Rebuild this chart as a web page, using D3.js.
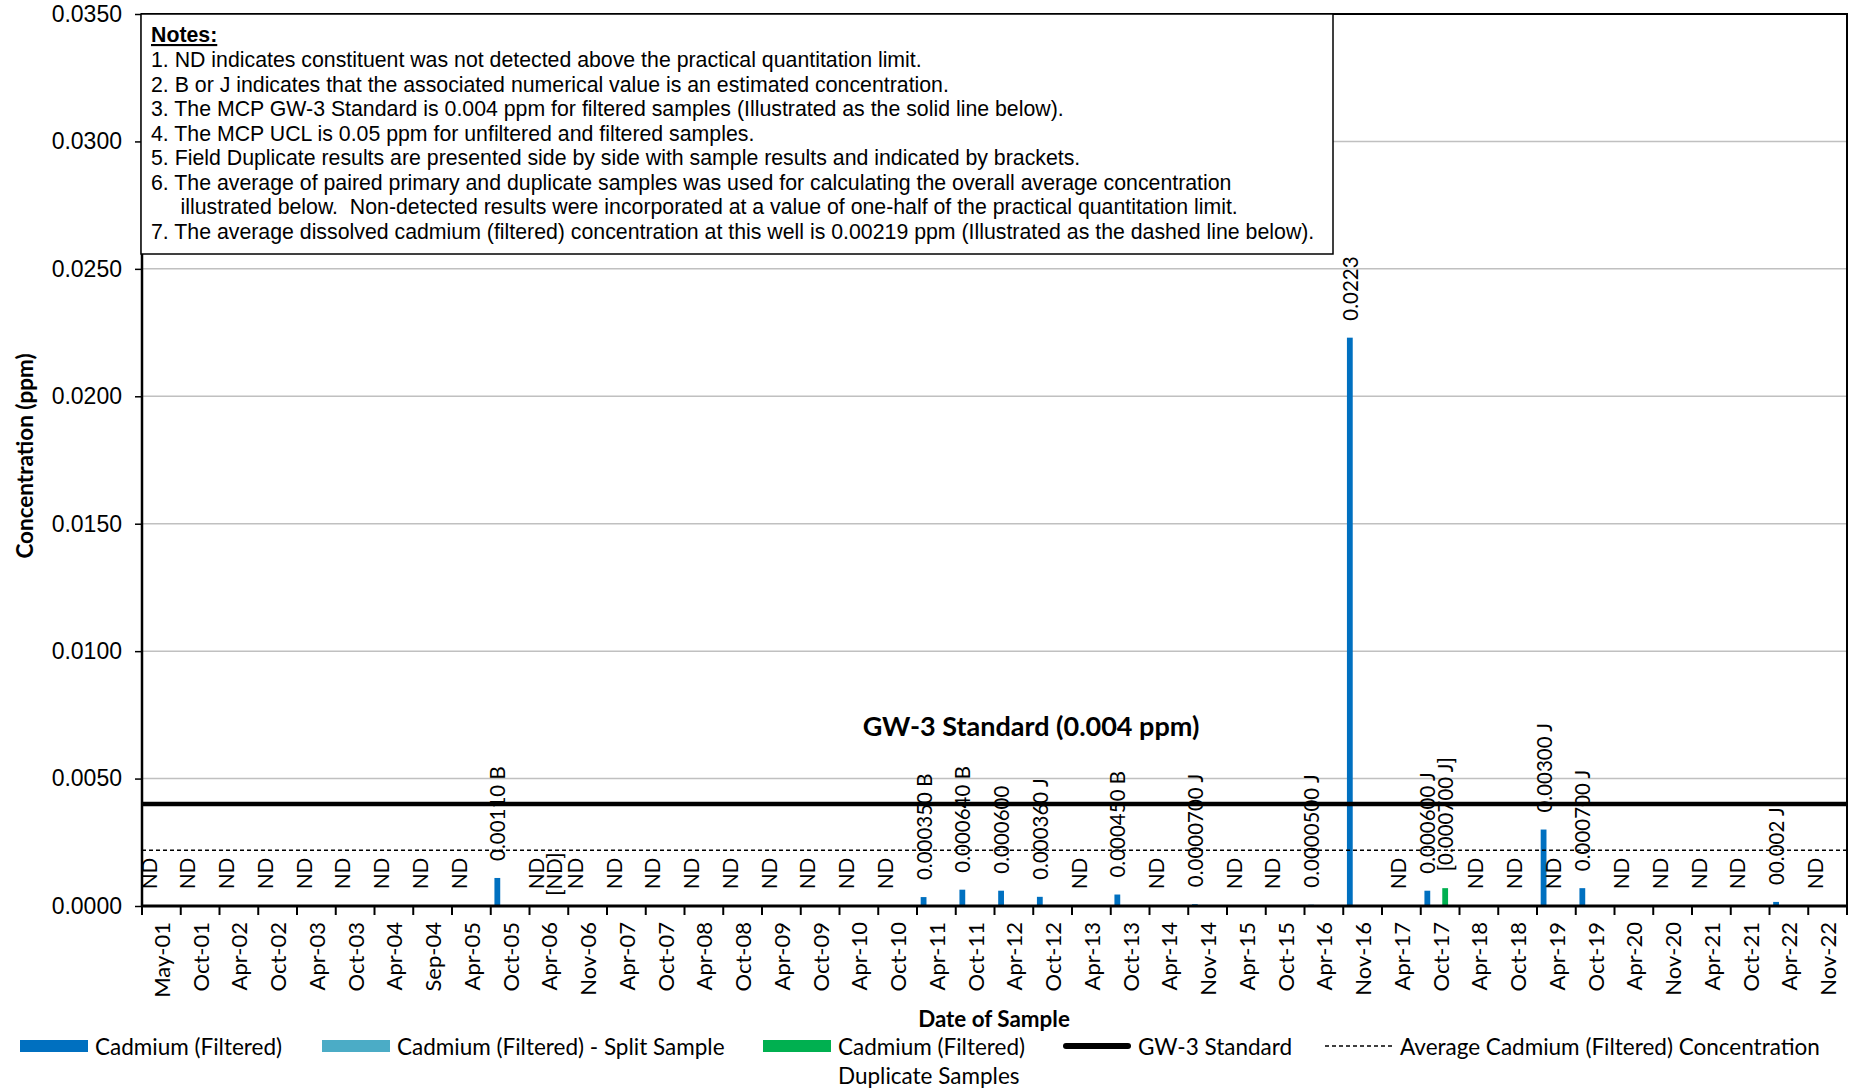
<!DOCTYPE html>
<html>
<head>
<meta charset="utf-8">
<script src="https://cdn.jsdelivr.net/npm/d3@7"></script>
<style>
  body { margin: 0; background: #fff; }
  svg { display: block; }
</style>
</head>
<body>
<script>
// Datos
const categorias = [
  "May-01", "Oct-01", "Apr-02", "Oct-02", "Apr-03", "Oct-03", "Apr-04", "Sep-04", "Apr-05", "Oct-05",
  "Apr-06", "Nov-06", "Apr-07", "Oct-07", "Apr-08", "Oct-08", "Apr-09", "Oct-09", "Apr-10", "Oct-10",
  "Apr-11", "Oct-11", "Apr-12", "Oct-12", "Apr-13", "Oct-13", "Apr-14", "Nov-14", "Apr-15", "Oct-15",
  "Apr-16", "Nov-16", "Apr-17", "Oct-17", "Apr-18", "Oct-18", "Apr-19", "Oct-19", "Apr-20", "Nov-20",
  "Apr-21", "Oct-21", "Apr-22", "Nov-22"
];

// Cadmium (Filtered): 0 = no detectado
const filtrado = [
  0, 0, 0, 0, 0, 0, 0, 0, 0, 0.0011,
  0, 0, 0, 0, 0, 0, 0, 0, 0, 0,
  0.00035, 0.00064, 0.0006, 0.00036, 0, 0.00045, 0, 0.00007, 0, 0,
  0.00005, 0.0223, 0, 0.0006, 0, 0, 0.003, 0.0007, 0, 0,
  0, 0, 0.00016, 0
];
const etiquetasFiltrado = [
  "ND", "ND", "ND", "ND", "ND", "ND", "ND", "ND", "ND", "0.00110 B",
  "ND", "ND", "ND", "ND", "ND", "ND", "ND", "ND", "ND", "ND",
  "0.000350 B", "0.000640 B", "0.000600", "0.000360 J", "ND", "0.000450 B", "ND", "0.0000700 J", "ND", "ND",
  "0.0000500 J", "0.0223", "", "0.000600 J", "", "", "0.00300 J", "0.000700 J", "ND", "ND",
  "ND", "ND", "00.002 J", "ND"
];

// Cadmium (Filtered) - Split Sample
const split = { "Apr-17": 0, "Apr-18": 0, "Oct-18": 0, "Apr-19": 0 };
const etiquetasSplit = { "Apr-17": "ND", "Apr-18": "ND", "Oct-18": "ND", "Apr-19": "ND" };

// Cadmium (Filtered) Duplicate Samples
const duplicado = { "Apr-06": 0, "Oct-17": 0.0007 };
const etiquetasDuplicado = { "Apr-06": "[ND]", "Oct-17": "[0.000700 J]" };

const estandarGW3 = 0.004;
const promedio = 0.00219;
const ticksY = [0, 0.005, 0.01, 0.015, 0.02, 0.025, 0.03, 0.035];

const notas = [
  "1. ND indicates constituent was not detected above the practical quantitation limit.",
  "2. B or J indicates that the associated numerical value is an estimated concentration.",
  "3. The MCP GW-3 Standard is 0.004 ppm for filtered samples (Illustrated as the solid line below).",
  "4. The MCP UCL is 0.05 ppm for unfiltered and filtered samples.",
  "5. Field Duplicate results are presented side by side with sample results and indicated by brackets.",
  "6. The average of paired primary and duplicate samples was used for calculating the overall average concentration",
  "     illustrated below.  Non-detected results were incorporated at a value of one-half of the practical quantitation limit.",
  "7. The average dissolved cadmium (filtered) concentration at this well is 0.00219 ppm (Illustrated as the dashed line below)."
];

const series = ["filtrado", "split", "duplicado"];
const colores = { filtrado: "#0070c0", split: "#4bacc6", duplicado: "#00b050" };

// Constantes de la visualización
const WIDTH = 1854;
const HEIGHT = 1088;
const MARGIN = { top: 14, bottom: 182, left: 142, right: 7 };
const HEIGHTVIS = HEIGHT - MARGIN.top - MARGIN.bottom;
const WIDTHVIS = WIDTH - MARGIN.left - MARGIN.right;

const ARIAL = "'Liberation Sans', Arial, sans-serif";
const CALIBRI = "Lato, 'Open Sans', sans-serif";

const svg = d3.select("body")
  .append("svg")
  .attr("width", WIDTH)
  .attr("height", HEIGHT);

const escalaX = d3.scaleBand()
  .domain(categorias)
  .range([0, WIDTHVIS])
  .padding(0);

const escalaSerie = d3.scaleBand()
  .domain(series)
  .range([escalaX.bandwidth() * 0.095, escalaX.bandwidth() * 0.705])
  .paddingInner(0.35);

const escalaY = d3.scaleLinear()
  .domain([0, 0.035])
  .range([HEIGHTVIS, 0]);

const vis = svg.append("g")
  .attr("transform", `translate(${MARGIN.left}, ${MARGIN.top})`);

// Líneas de grilla
vis.append("g")
  .selectAll("line")
  .data(ticksY.slice(1, -1))
  .join("line")
  .attr("x1", 0)
  .attr("x2", WIDTHVIS)
  .attr("y1", d => escalaY(d))
  .attr("y2", d => escalaY(d))
  .attr("stroke", "#c0c0c0")
  .attr("stroke-width", 1.5);

// Construimos los datos de las barras
const datos = [];
categorias.forEach((c, i) => {
  datos.push({ categoria: c, serie: "filtrado", valor: filtrado[i], etiqueta: etiquetasFiltrado[i] });
  if (c in split) datos.push({ categoria: c, serie: "split", valor: split[c], etiqueta: etiquetasSplit[c] });
  if (c in duplicado) datos.push({ categoria: c, serie: "duplicado", valor: duplicado[c], etiqueta: etiquetasDuplicado[c] });
});

vis.append("g")
  .selectAll("rect")
  .data(datos.filter(d => d.valor > 0))
  .join("rect")
  .attr("x", d => escalaX(d.categoria) + escalaSerie(d.serie))
  .attr("width", escalaSerie.bandwidth())
  .attr("y", d => escalaY(d.valor))
  .attr("height", d => HEIGHTVIS - escalaY(d.valor))
  .attr("fill", d => colores[d.serie]);

// Línea GW-3 y promedio
vis.append("line")
  .attr("x1", 0).attr("x2", WIDTHVIS)
  .attr("y1", escalaY(estandarGW3)).attr("y2", escalaY(estandarGW3))
  .attr("stroke", "#000").attr("stroke-width", 4.5);

vis.append("line")
  .attr("x1", 0).attr("x2", WIDTHVIS)
  .attr("y1", escalaY(promedio)).attr("y2", escalaY(promedio))
  .attr("stroke", "#000").attr("stroke-width", 1.5)
  .attr("stroke-dasharray", "4,3");

// Etiquetas de datos (las ND entre corchetes van centradas, como en Excel)
vis.append("g")
  .selectAll("text")
  .data(datos.filter(d => d.etiqueta))
  .join("text")
  .attr("transform", d => {
    const x = escalaX(d.categoria) + escalaSerie(d.serie) + escalaSerie.bandwidth() / 2;
    const y = d.etiqueta === "[ND]" ? escalaY(d.valor) - 32 : escalaY(d.valor) - 17;
    return `translate(${x}, ${y}) rotate(-90)`;
  })
  .attr("text-anchor", d => d.etiqueta === "[ND]" ? "middle" : "start")
  .attr("dominant-baseline", "central")
  .attr("font-family", CALIBRI)
  .attr("font-size", 20.5)
  .attr("fill", "#000")
  .text(d => d.etiqueta);

// Eje Y
const ejeY = d3.axisLeft(escalaY)
  .tickValues(ticksY)
  .tickFormat(d3.format(".4f"))
  .tickSize(7)
  .tickPadding(13);

const contenedorEjeY = vis.append("g").call(ejeY);
contenedorEjeY.select(".domain").remove();
contenedorEjeY.selectAll("line").attr("stroke", "#000").attr("stroke-width", 1.5);
contenedorEjeY.selectAll("text")
  .attr("font-family", ARIAL)
  .attr("font-size", 23)
  .attr("fill", "#000");

// Eje X: marcas en los bordes de cada banda
const contenedorEjeX = vis.append("g")
  .attr("transform", `translate(0, ${HEIGHTVIS})`);

contenedorEjeX.selectAll("line")
  .data(categorias.concat(["fin"]))
  .join("line")
  .attr("x1", d => d === "fin" ? WIDTHVIS : escalaX(d))
  .attr("x2", d => d === "fin" ? WIDTHVIS : escalaX(d))
  .attr("y1", 0)
  .attr("y2", 9)
  .attr("stroke", "#000")
  .attr("stroke-width", 2);

contenedorEjeX.selectAll("text")
  .data(categorias)
  .join("text")
  .attr("transform", d => `translate(${escalaX(d) + escalaX.bandwidth() / 2}, 16) rotate(-90)`)
  .attr("text-anchor", "end")
  .attr("dominant-baseline", "central")
  .attr("font-family", CALIBRI)
  .attr("font-size", 22)
  .text(d => d);

// Borde del área del gráfico
vis.append("rect")
  .attr("x", 0).attr("y", 0)
  .attr("width", WIDTHVIS).attr("height", HEIGHTVIS)
  .attr("fill", "none")
  .attr("stroke", "#000")
  .attr("stroke-width", 2);

vis.append("line")
  .attr("x1", 0).attr("x2", WIDTHVIS)
  .attr("y1", HEIGHTVIS).attr("y2", HEIGHTVIS)
  .attr("stroke", "#000").attr("stroke-width", 3);

vis.append("line")
  .attr("x1", 0).attr("x2", 0)
  .attr("y1", 0).attr("y2", HEIGHTVIS)
  .attr("stroke", "#000").attr("stroke-width", 2.5);

// Texto GW-3
vis.append("text")
  .attr("x", 889)
  .attr("y", 722)
  .attr("text-anchor", "middle")
  .attr("font-family", CALIBRI)
  .attr("font-weight", "bold")
  .attr("font-size", 27)
  .text("GW-3 Standard (0.004 ppm)");

// Cuadro de notas
const notasG = svg.append("g").attr("transform", "translate(141, 14)");
notasG.append("rect")
  .attr("width", 1192).attr("height", 240)
  .attr("fill", "#fff")
  .attr("stroke", "#000")
  .attr("stroke-width", 1.5);

notasG.append("text")
  .attr("x", 10).attr("y", 28)
  .attr("font-family", ARIAL)
  .attr("font-size", 21.3)
  .attr("font-weight", "bold")
  .attr("text-decoration", "underline")
  .text("Notes:");

notasG.selectAll("text.nota")
  .data(notas)
  .join("text")
  .attr("class", "nota")
  .attr("x", 10)
  .attr("y", (d, i) => 53 + i * 24.5)
  .attr("font-family", ARIAL)
  .attr("font-size", 21.3)
  .attr("xml:space", "preserve")
  .style("white-space", "pre")
  .text(d => d);

// Títulos de ejes
svg.append("text")
  .attr("x", 994).attr("y", 1027)
  .attr("text-anchor", "middle")
  .attr("font-family", CALIBRI)
  .attr("font-weight", "bold")
  .attr("font-size", 22.4)
  .text("Date of Sample");

svg.append("text")
  .attr("transform", "translate(24, 456) rotate(-90)")
  .attr("text-anchor", "middle")
  .attr("dominant-baseline", "central")
  .attr("font-family", CALIBRI)
  .attr("font-weight", "bold")
  .attr("font-size", 22.5)
  .text("Concentration (ppm)");

// Leyenda
const leyenda = [
  { nombre: "Cadmium (Filtered)", tipo: "rect", color: colores.filtrado, x: 20 },
  { nombre: "Cadmium (Filtered) - Split Sample", tipo: "rect", color: colores.split, x: 322 },
  { nombre: "Cadmium (Filtered)", nombre2: "Duplicate Samples", tipo: "rect", color: colores.duplicado, x: 763 },
  { nombre: "GW-3 Standard", tipo: "linea", x: 1063 },
  { nombre: "Average Cadmium (Filtered) Concentration", tipo: "guion", x: 1325 }
];

const leyG = svg.append("g").attr("transform", "translate(0, 1046)");
const items = leyG.selectAll("g")
  .data(leyenda)
  .join("g")
  .attr("transform", d => `translate(${d.x}, 0)`);

items.filter(d => d.tipo === "rect")
  .append("rect")
  .attr("x", 0).attr("y", -6)
  .attr("width", 68).attr("height", 12)
  .attr("fill", d => d.color);

items.filter(d => d.tipo === "linea")
  .append("line")
  .attr("x1", 3).attr("x2", 65)
  .attr("stroke", "#000").attr("stroke-width", 6)
  .attr("stroke-linecap", "round");

items.filter(d => d.tipo === "guion")
  .append("line")
  .attr("x1", 0).attr("x2", 68)
  .attr("stroke", "#000").attr("stroke-width", 1.5)
  .attr("stroke-dasharray", "4,3");

items.append("text")
  .attr("x", 75).attr("y", 0)
  .attr("dominant-baseline", "central")
  .attr("font-family", CALIBRI)
  .attr("font-size", 22.5)
  .text(d => d.nombre);

items.filter(d => d.nombre2)
  .append("text")
  .attr("x", 75).attr("y", 29)
  .attr("dominant-baseline", "central")
  .attr("font-family", CALIBRI)
  .attr("font-size", 22.5)
  .text(d => d.nombre2);
</script>
</body>
</html>
